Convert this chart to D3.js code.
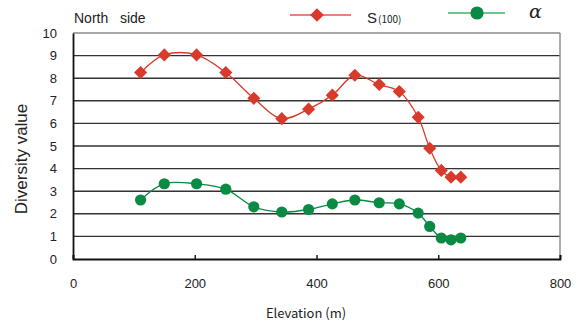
<!DOCTYPE html>
<html>
<head>
<meta charset="utf-8">
<script src="https://cdn.jsdelivr.net/npm/d3@7"></script>
<style>
  body { margin: 0; background: #fff; }
  text { font-family: "Liberation Sans", Arial, sans-serif; fill: #222; }
</style>
</head>
<body>
<svg width="578" height="325"></svg>
<script>
// elevation (m) of each sample plot
const elevation = [111, 150, 203, 251, 297, 343, 387, 426, 463, 503, 536, 567, 586, 605, 621, 637];
// S(100)
const sValues = [8.25, 9.03, 9.03, 8.25, 7.11, 6.21, 6.63, 7.25, 8.13, 7.72, 7.41, 6.27, 4.9, 3.92, 3.62, 3.62];
// alpha
const alphaValues = [2.61, 3.33, 3.33, 3.09, 2.31, 2.08, 2.19, 2.44, 2.61, 2.49, 2.44, 2.03, 1.44, 0.93, 0.85, 0.93];
const xTicks = [0, 200, 400, 600, 800];
const yTicks = [0, 1, 2, 3, 4, 5, 6, 7, 8, 9, 10];

const svg = d3.select('svg');
const margin = { top: 33, right: 18, bottom: 66, left: 73 };
const width = 578 - margin.left - margin.right;
const height = 325 - margin.top - margin.bottom;
const g = svg.append('g').attr('transform', `translate(${margin.left},${margin.top})`);
const cjk = '"Noto Sans CJK JP", "Liberation Sans", sans-serif';

// Scales
const x = d3.scaleLinear().domain([0, 800]).range([0, width]);
const y = d3.scaleLinear().domain([0, 10]).range([height, 0]);

// Grid lines
g.selectAll('.grid')
    .data(yTicks.slice(1))
    .enter().append('line')
    .attr('x1', 0).attr('x2', width)
    .attr('y1', d => y(d)).attr('y2', d => y(d))
    .attr('stroke', d => d === 10 ? '#8a8a8a' : '#333')
    .attr('stroke-width', 1.4);

// right border
g.append('line')
    .attr('x1', width).attr('x2', width)
    .attr('y1', 0).attr('y2', height)
    .attr('stroke', '#8a8a8a').attr('stroke-width', 1.4);

// Axes
const yAxis = g.append('g')
    .call(d3.axisLeft(y).tickValues(yTicks).tickSize(0).tickPadding(16));
yAxis.select('.domain').attr('stroke', '#111').attr('stroke-width', 1.8);
yAxis.selectAll('text').attr('font-size', 13).attr('fill', '#222');

const xAxis = g.append('g')
    .attr('transform', `translate(0,${height})`)
    .call(d3.axisBottom(x).tickValues(xTicks).tickSize(-4).tickPadding(20));
xAxis.select('.domain').attr('stroke', '#111').attr('stroke-width', 1.8);
xAxis.selectAll('line').attr('stroke', '#111').attr('stroke-width', 1.4);
xAxis.selectAll('text').attr('font-size', 13).attr('fill', '#222');

// Axis titles
svg.append('text')
    .attr('transform', 'translate(27,159) rotate(-90)')
    .attr('text-anchor', 'middle')
    .attr('font-size', 17)
    .text('Diversity value');
svg.append('text')
    .attr('x', 306).attr('y', 318)
    .attr('text-anchor', 'middle')
    .attr('font-size', 13)
    .style('font-family', cjk)
    .text('Elevation (m)');
svg.append('text')
    .attr('x', 74).attr('y', 23)
    .attr('font-size', 14)
    .style('white-space', 'pre')
    .text('North   side');

// Series
const red = '#d83a2c', green = '#0b8a44';
const line = d3.line()
    .x(d => x(d[0]))
    .y(d => y(d[1]))
    .curve(d3.curveCatmullRom.alpha(0.5));

const sData = elevation.map((e, i) => [e, sValues[i]]);
const aData = elevation.map((e, i) => [e, alphaValues[i]]);

g.append('path').datum(sData)
    .attr('fill', 'none').attr('stroke', red).attr('stroke-width', 1.3)
    .attr('d', line);
g.selectAll('.s-pt')
    .data(sData)
    .enter().append('path')
    .attr('class', 's-pt')
    .attr('transform', d => `translate(${x(d[0])},${y(d[1])})`)
    .attr('d', d3.symbol(d3.symbolDiamond2, 110))
    .attr('fill', red);

g.append('path').datum(aData)
    .attr('fill', 'none').attr('stroke', green).attr('stroke-width', 1.3)
    .attr('d', line);
g.selectAll('.a-pt')
    .data(aData)
    .enter().append('circle')
    .attr('class', 'a-pt')
    .attr('cx', d => x(d[0]))
    .attr('cy', d => y(d[1]))
    .attr('r', 5.6)
    .attr('fill', green);

// Legend
const leg = svg.append('g');
leg.append('line')
    .attr('x1', 290).attr('x2', 351).attr('y1', 15).attr('y2', 15)
    .attr('stroke', '#e0584a').attr('stroke-width', 1.4);
leg.append('path')
    .attr('transform', 'translate(317,15)')
    .attr('d', d3.symbol(d3.symbolDiamond2, 120))
    .attr('fill', red);
const sLabel = leg.append('text').attr('x', 367).attr('y', 23).attr('font-size', 15);
sLabel.append('tspan').text('S');
sLabel.append('tspan').attr('font-size', 10).attr('dx', 1).style('font-family', cjk).text('(100)');

leg.append('line')
    .attr('x1', 448).attr('x2', 505).attr('y1', 13).attr('y2', 13)
    .attr('stroke', '#3cb56c').attr('stroke-width', 1.4);
leg.append('circle')
    .attr('cx', 477).attr('cy', 13).attr('r', 6.6)
    .attr('fill', green);
leg.append('text')
    .attr('x', 529).attr('y', 18)
    .attr('font-size', 19)
    .attr('font-style', 'italic')
    .style('font-family', '"DejaVu Serif", serif')
    .text('α');
</script>
</body>
</html>
